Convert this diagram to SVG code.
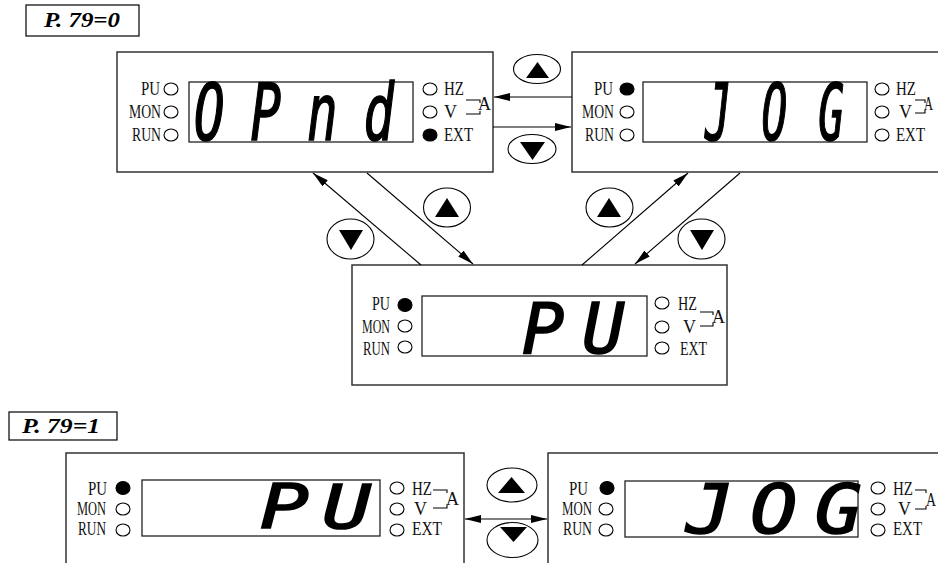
<svg xmlns="http://www.w3.org/2000/svg" width="938" height="563" viewBox="0 0 938 563">
<style>
.bg{fill:#fff}
.panel{fill:#fff;stroke:#333;stroke-width:1.5}
.disp{fill:#fff;stroke:#222;stroke-width:1.3}
.led{fill:#fff;stroke:#000;stroke-width:1.1}
.on{fill:#000;stroke:#000;stroke-width:1.1}
.lbl{font-family:"Liberation Serif",serif;font-size:18px;fill:#111}
.r{text-anchor:end}
.brk{fill:none;stroke:#000;stroke-width:1.1}
.seg{font-family:"DejaVu Sans Mono",monospace;font-weight:normal;font-style:italic;fill:#000;stroke:#000;stroke-width:1.6}
.title{font-family:"Liberation Serif",serif;font-weight:bold;font-style:italic;font-size:20px;fill:#000}
.tbox{fill:#fff;stroke:#000;stroke-width:1.2}
.btn{fill:#fff;stroke:#000;stroke-width:1.1}
.tri{fill:#000}
.conn{stroke:#000;stroke-width:1.1;fill:none}
</style>
<defs>
<marker id="ah" markerUnits="userSpaceOnUse" markerWidth="17" markerHeight="10" refX="16" refY="4" orient="auto-start-reverse">
<path d="M0,0 L16,4 L0,8 z" fill="#000"/>
</marker>
</defs>
<rect class="bg" x="0" y="0" width="938" height="563"/>

<g id="title-79-0">
<rect class="tbox" x="26" y="5" width="113" height="31"/>
<text class="title" x="44" y="27" textLength="76" lengthAdjust="spacingAndGlyphs">P. 79=0</text>
</g>

<g id="panel-opnd">
<rect class="panel" x="117" y="52" width="376" height="120"/>
<rect class="disp" x="189" y="82" width="224" height="60"/>
<text class="lbl r" x="160" y="95" textLength="19" lengthAdjust="spacingAndGlyphs">PU</text>
<text class="lbl r" x="161" y="118" textLength="32" lengthAdjust="spacingAndGlyphs">MON</text>
<text class="lbl r" x="161" y="141" textLength="29" lengthAdjust="spacingAndGlyphs">RUN</text>
<ellipse class="led" cx="171" cy="89" rx="7" ry="6"/>
<ellipse class="led" cx="171" cy="112" rx="7" ry="6"/>
<ellipse class="led" cx="171" cy="135" rx="7" ry="6"/>
<ellipse class="led" cx="430" cy="89" rx="7" ry="6"/>
<ellipse class="led" cx="430" cy="112" rx="7" ry="6"/>
<ellipse class="on" cx="430" cy="135" rx="7" ry="6"/>
<text class="lbl" x="444" y="95" textLength="20" lengthAdjust="spacingAndGlyphs">HZ</text>
<text class="lbl" x="444" y="118">V</text>
<text class="lbl" x="444" y="141" textLength="29" lengthAdjust="spacingAndGlyphs">EXT</text>
<path class="brk" d="M466,100 H480 V103 M466,114 H480 V111"/>
<text class="lbl" x="478" y="110">A</text>
<text class="seg" font-size="78" letter-spacing="40" transform="translate(194,140) scale(0.65,1)">OPnd</text>
</g>

<g id="panel-jog-top">
<rect class="panel" x="572" y="52" width="376" height="120"/>
<rect class="disp" x="643" y="82" width="224" height="60"/>
<text class="lbl r" x="613" y="95" textLength="19" lengthAdjust="spacingAndGlyphs">PU</text>
<text class="lbl r" x="614" y="118" textLength="32" lengthAdjust="spacingAndGlyphs">MON</text>
<text class="lbl r" x="614" y="141" textLength="29" lengthAdjust="spacingAndGlyphs">RUN</text>
<ellipse class="on" cx="627" cy="89" rx="7" ry="6"/>
<ellipse class="led" cx="627" cy="112" rx="7" ry="6"/>
<ellipse class="led" cx="627" cy="135" rx="7" ry="6"/>
<ellipse class="led" cx="882" cy="89" rx="7" ry="6"/>
<ellipse class="led" cx="882" cy="112" rx="7" ry="6"/>
<ellipse class="led" cx="882" cy="135" rx="7" ry="6"/>
<text class="lbl" x="896" y="95" textLength="20" lengthAdjust="spacingAndGlyphs">HZ</text>
<text class="lbl" x="899" y="118">V</text>
<text class="lbl" x="896" y="141" textLength="29" lengthAdjust="spacingAndGlyphs">EXT</text>
<path class="brk" d="M915,100 H925 V103 M915,113 H925 V110"/>
<text class="lbl" x="924" y="110" textLength="9" lengthAdjust="spacingAndGlyphs">A</text>
<text class="seg" font-size="78" letter-spacing="56" transform="translate(705,140) scale(0.55,1)">JOG</text>
</g>

<g id="panel-pu-center">
<rect class="panel" x="352" y="265" width="375" height="120"/>
<rect class="disp" x="422" y="296" width="225" height="60"/>
<text class="lbl r" x="390" y="310" textLength="18" lengthAdjust="spacingAndGlyphs">PU</text>
<text class="lbl r" x="390" y="333" textLength="28" lengthAdjust="spacingAndGlyphs">MON</text>
<text class="lbl r" x="390" y="355" textLength="27" lengthAdjust="spacingAndGlyphs">RUN</text>
<ellipse class="on" cx="405" cy="305" rx="7" ry="6.5"/>
<ellipse class="led" cx="405" cy="326" rx="7" ry="6"/>
<ellipse class="led" cx="405" cy="347" rx="7" ry="6"/>
<ellipse class="led" cx="662" cy="303" rx="7" ry="6"/>
<ellipse class="led" cx="662" cy="327" rx="7" ry="6"/>
<ellipse class="led" cx="662" cy="348" rx="7" ry="6"/>
<text class="lbl" x="678" y="310" textLength="19" lengthAdjust="spacingAndGlyphs">HZ</text>
<text class="lbl" x="683" y="333">V</text>
<text class="lbl" x="680" y="355" textLength="27" lengthAdjust="spacingAndGlyphs">EXT</text>
<path class="brk" d="M700,312 H713 V315 M700,326 H713 V323"/>
<text class="lbl" x="712" y="323">A</text>
<text class="seg" font-size="70" letter-spacing="18" transform="translate(522,353) scale(1,1)">PU</text>
</g>

<g id="title-79-1">
<rect class="tbox" x="9" y="412" width="108" height="28"/>
<text class="title" x="22" y="433" textLength="78" lengthAdjust="spacingAndGlyphs">P. 79=1</text>
</g>

<g id="panel-pu-bottom">
<rect class="panel" x="66" y="453" width="398" height="130"/>
<rect class="disp" x="142" y="480" width="238" height="56"/>
<text class="lbl r" x="107" y="495" textLength="19" lengthAdjust="spacingAndGlyphs">PU</text>
<text class="lbl r" x="106" y="515" textLength="29" lengthAdjust="spacingAndGlyphs">MON</text>
<text class="lbl r" x="106" y="535" textLength="28" lengthAdjust="spacingAndGlyphs">RUN</text>
<ellipse class="on" cx="123" cy="488" rx="7" ry="6.5"/>
<ellipse class="led" cx="123" cy="509" rx="7" ry="6"/>
<ellipse class="led" cx="123" cy="530" rx="7" ry="6"/>
<ellipse class="led" cx="397" cy="488" rx="7" ry="6"/>
<ellipse class="led" cx="397" cy="509" rx="7" ry="6"/>
<ellipse class="led" cx="397" cy="530" rx="7" ry="6"/>
<text class="lbl" x="412" y="495" textLength="20" lengthAdjust="spacingAndGlyphs">HZ</text>
<text class="lbl" x="414" y="515">V</text>
<text class="lbl" x="412" y="535" textLength="30" lengthAdjust="spacingAndGlyphs">EXT</text>
<path class="brk" d="M433,490 H447 V493 M433,508 H447 V505"/>
<text class="lbl" x="446" y="505">A</text>
<text class="seg" font-size="60" letter-spacing="10" transform="translate(260,528) scale(1.35,1)">PU</text>
</g>

<g id="panel-jog-bottom">
<rect class="panel" x="548" y="453" width="400" height="130"/>
<rect class="disp" x="625" y="481" width="233" height="56"/>
<text class="lbl r" x="588" y="495" textLength="19" lengthAdjust="spacingAndGlyphs">PU</text>
<text class="lbl r" x="592" y="515" textLength="30" lengthAdjust="spacingAndGlyphs">MON</text>
<text class="lbl r" x="592" y="535" textLength="29" lengthAdjust="spacingAndGlyphs">RUN</text>
<ellipse class="on" cx="607" cy="488" rx="7" ry="6.5"/>
<ellipse class="led" cx="606" cy="509" rx="7" ry="6"/>
<ellipse class="led" cx="606" cy="530" rx="7" ry="6"/>
<ellipse class="led" cx="878" cy="488" rx="7" ry="6"/>
<ellipse class="led" cx="878" cy="509" rx="7" ry="6"/>
<ellipse class="led" cx="878" cy="530" rx="7" ry="6"/>
<text class="lbl" x="893" y="495" textLength="20" lengthAdjust="spacingAndGlyphs">HZ</text>
<text class="lbl" x="898" y="515">V</text>
<text class="lbl" x="893" y="535" textLength="29" lengthAdjust="spacingAndGlyphs">EXT</text>
<path class="brk" d="M915,490 H926 V493 M915,509 H926 V506"/>
<text class="lbl" x="926" y="506" textLength="10" lengthAdjust="spacingAndGlyphs">A</text>
<text class="seg" font-size="68" letter-spacing="15" transform="translate(686,533) scale(1.15,1)">JOG</text>
</g>

<g id="connectors">
<line class="conn" x1="572" y1="97" x2="494" y2="97" marker-end="url(#ah)"/>
<line class="conn" x1="493" y1="127" x2="571" y2="127" marker-end="url(#ah)"/>
<line class="conn" x1="421" y1="265" x2="313" y2="173" marker-end="url(#ah)"/>
<line class="conn" x1="367" y1="173" x2="473" y2="264" marker-end="url(#ah)"/>
<line class="conn" x1="582" y1="265" x2="688" y2="173" marker-end="url(#ah)"/>
<line class="conn" x1="740" y1="173" x2="635" y2="264" marker-end="url(#ah)"/>
<line class="conn" x1="465" y1="519" x2="547" y2="519" marker-start="url(#ah)" marker-end="url(#ah)"/>
</g>

<g id="button-up-top">
<ellipse class="btn" cx="537" cy="69" rx="23.5" ry="14.5"/>
<polygon class="tri" points="526,78 549,78 537.5,62"/>
</g>
<g id="button-down-top">
<ellipse class="btn" cx="532" cy="149" rx="24" ry="14.5"/>
<polygon class="tri" points="520,142 545,142 532.5,160"/>
</g>
<g id="button-up-left">
<ellipse class="btn" cx="447" cy="207.5" rx="23.5" ry="19.5"/>
<polygon class="tri" points="435,217 459,217 447,198"/>
</g>
<g id="button-down-left">
<ellipse class="btn" cx="350.5" cy="239" rx="23.5" ry="20"/>
<polygon class="tri" points="339,230 363,230 351,250"/>
</g>
<g id="button-up-right">
<ellipse class="btn" cx="609.5" cy="207.5" rx="23.5" ry="19.5"/>
<polygon class="tri" points="597,217 621,217 609,198"/>
</g>
<g id="button-down-right">
<ellipse class="btn" cx="701.5" cy="239" rx="23.5" ry="20"/>
<polygon class="tri" points="690,230 714,230 702,250"/>
</g>
<g id="button-up-bottom">
<ellipse class="btn" cx="512" cy="485" rx="25" ry="17"/>
<polygon class="tri" points="498,493 525,493 511.5,477"/>
</g>
<g id="button-down-bottom">
<ellipse class="btn" cx="512.5" cy="540" rx="25.5" ry="17.5"/>
<polygon class="tri" points="500,527 527,527 513.5,542"/>
</g>
</svg>
